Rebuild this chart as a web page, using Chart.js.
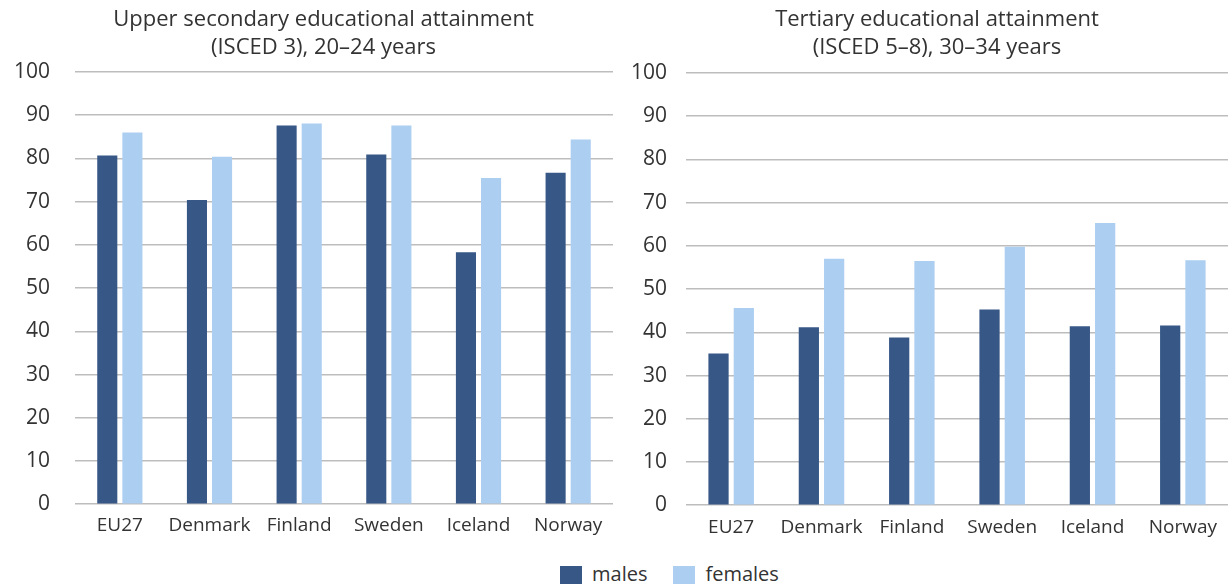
<!DOCTYPE html>
<html>
<head>
<meta charset="utf-8">
<script src="https://cdn.jsdelivr.net/npm/chart.js@4.4.1/dist/chart.umd.min.js"></script>
<style>
  html, body { margin: 0; padding: 0; background: #fff; }
  #wrap { position: relative; width: 1228px; height: 587px; font-family: "Open Sans", sans-serif; }
  .box { position: absolute; top: 0; height: 548px; }
  #boxL { left: 0; width: 620px; }
  #boxR { left: 620px; width: 608px; }
  #legend { position: absolute; top: 562px; left: 560px; white-space: nowrap; font-size: 20px; line-height: 24px; color: #333; }
  #legend span.sw { display: inline-block; width: 22px; height: 18px; vertical-align: -3px; margin-right: 10px; }
  #legend span.it { margin-right: 26px; }
</style>
</head>
<body>
<div id="wrap">
  <div class="box" id="boxL"><canvas id="chartL"></canvas></div>
  <div class="box" id="boxR"><canvas id="chartR"></canvas></div>
  <div id="legend"><span class="it"><span class="sw" style="background:#375786"></span>males</span><span><span class="sw" style="background:#abcef1"></span>females</span></div>
</div>
<script>
const countries = ['EU27', 'Denmark', 'Finland', 'Sweden', 'Iceland', 'Norway'];
const yTicks = [0, 10, 20, 30, 40, 50, 60, 70, 80, 90, 100];

// Upper secondary (ISCED 3), 20-24 years
const upperMales   = [80.7, 70.4, 87.6, 80.9, 58.3, 76.7];
const upperFemales = [86.0, 80.4, 88.1, 87.6, 75.5, 84.4];

// Tertiary (ISCED 5-8), 30-34 years
const tertMales   = [35.1, 41.2, 38.8, 45.3, 41.4, 41.6];
const tertFemales = [45.6, 57.0, 56.5, 59.8, 65.3, 56.7];

const MALE_COLOR = '#375786';
const FEMALE_COLOR = '#abcef1';
const TEXT = '#333';
const FONT = '"Open Sans", sans-serif';

// the original titles sit a bit right of the canvas centre
const titleShift = {
  id: 'titleShift',
  afterLayout(chart, args, opts) {
    const t = chart.titleBlock;
    if (!t || !opts.dx) return;
    t.left += opts.dx;
    t.right += opts.dx;
  },
};

// pad: { right, bottom, title, xPad, dx }
function makeChart(id, title, males, females, yWidth, tickPad, pad) {
  return new Chart(document.getElementById(id), {
    type: 'bar',
    data: {
      labels: countries,
      datasets: [
        { label: 'males', data: males, backgroundColor: MALE_COLOR, borderWidth: 0 },
        { label: 'females', data: females, backgroundColor: FEMALE_COLOR, borderWidth: 0 },
      ],
    },
    options: {
      responsive: true,
      maintainAspectRatio: false,
      animation: false,
      categoryPercentage: 0.56,
      barPercentage: 0.8,
      layout: { padding: { top: 0, right: pad.right, bottom: pad.bottom, left: 0 } },
      plugins: {
        legend: { display: false },
        tooltip: { enabled: false },
        titleShift: { dx: pad.dx },
        title: {
          display: true,
          text: title,
          color: TEXT,
          font: { family: FONT, size: 22, weight: 'normal', lineHeight: 1.25 },
          padding: { top: 6, bottom: pad.title },
        },
      },
      scales: {
        x: {
          grid: { display: false },
          border: { display: false },
          ticks: { color: TEXT, font: { family: FONT, size: 19 }, padding: pad.xPad, maxRotation: 0 },
        },
        y: {
          min: 0,
          max: 100,
          afterFit(scale) { scale.width = yWidth; },
          afterBuildTicks(scale) { scale.ticks = yTicks.map(v => ({ value: v })); },
          grid: { color: '#bdbdbd', lineWidth: 1.5, drawTicks: false },
          border: { display: false },
          ticks: { color: TEXT, font: { family: FONT, size: 21 }, padding: tickPad },
        },
      },
    },
    plugins: [titleShift],
  });
}

makeChart('chartL', ['Upper secondary educational attainment', '(ISCED 3), 20–24 years'],
  upperMales, upperFemales, 75, 25, { right: 7, bottom: 9, title: 11, xPad: 2, dx: 17 });
makeChart('chartR', ['Tertiary educational attainment', '(ISCED 5–8), 30–34 years'],
  tertMales, tertFemales, 66, 19, { right: 0, bottom: 6, title: 12, xPad: 3, dx: 13 });
</script>
</body>
</html>
